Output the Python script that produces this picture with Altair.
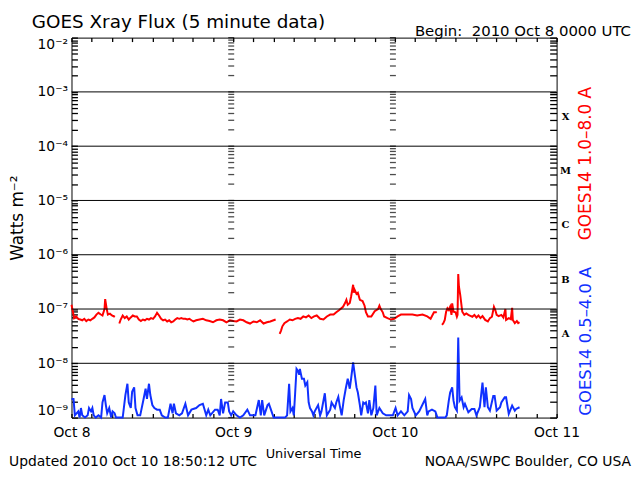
import json
import altair as alt
import pandas as pd

# ---------------- texts ----------------
title_text = "GOES Xray Flux (5 minute data)"
begin_text = "Begin:\u00a0\u00a02010 Oct 8 0000 UTC"
updated_text = "Updated 2010 Oct 10 18:50:12 UTC"
credit_text = "NOAA/SWPC Boulder, CO USA"
y_title = "Watts m⁻²"
x_title = "Universal Time"
red_label = "GOES14 1.0–8.0 A"
blue_label = "GOES14 0.5–4.0 A"
day_labels = ["Oct 8", "Oct 9", "Oct 10", "Oct 11"]

# flare classes (label placed mid-decade)
class_names = ["X", "M", "C", "B", "A"]
class_flux = [3.2e-4, 3.2e-5, 3.2e-6, 3.2e-7, 3.2e-8]
decade_lines = [1e-3, 1e-4, 1e-5, 1e-6, 1e-7, 1e-8]
ladder_hours = [24, 48]

# ---------------- data (hours since 2010 Oct 8 00 UT, flux W m^-2) ----------------
red_hours_1 = [0.0, 0.2, 0.4, 0.7, 1.0, 1.3, 1.6, 1.9, 2.2, 2.5,
               2.8, 3.1, 3.4, 3.7, 4.0, 4.3, 4.6, 4.9, 5.0, 5.2,
               5.4, 5.7, 6.0, 6.3, 6.4]
red_flux_1 = [1.2e-7, 9.0e-8, 6.8e-8, 7.3e-8, 6.6e-8, 6.4e-8, 6.2e-8, 6.6e-8, 6.0e-8, 6.4e-8,
              6.2e-8, 6.6e-8, 7.0e-8, 7.9e-8, 8.5e-8, 8.0e-8, 7.6e-8, 1.0e-7, 1.52e-7, 1.05e-7,
              7.9e-8, 8.2e-8, 7.6e-8, 7.3e-8, 7.6e-8]

red_hours_2 = [7.1, 7.3, 7.6, 7.9, 8.2, 8.5, 8.8, 9.1, 9.4, 9.7,
               10.0, 10.3, 10.6, 10.9, 11.2, 11.5, 11.8, 12.1, 12.4, 12.7,
               13.0, 13.3, 13.6, 13.9, 14.2, 14.5, 14.8, 15.1, 15.4, 15.7,
               16.0, 16.3, 16.6, 16.9, 17.2, 17.5, 17.8, 18.1, 18.5, 19.0,
               19.5, 20.0, 20.5, 21.0, 21.5, 22.0, 22.5, 23.0, 23.5, 24.0,
               24.5, 25.0, 25.5, 26.0, 26.5, 27.0, 27.5, 28.0, 28.5, 29.0,
               29.5, 30.0, 30.3]
red_flux_2 = [5.4e-8, 6.4e-8, 7.6e-8, 6.8e-8, 7.3e-8, 6.4e-8, 7.0e-8, 7.6e-8, 7.3e-8, 7.3e-8,
              6.4e-8, 6.0e-8, 6.4e-8, 6.2e-8, 6.6e-8, 6.4e-8, 6.8e-8, 6.6e-8, 7.3e-8, 8.5e-8,
              7.6e-8, 6.6e-8, 6.2e-8, 6.4e-8, 5.9e-8, 6.2e-8, 5.7e-8, 5.9e-8, 6.4e-8, 6.8e-8,
              6.6e-8, 6.8e-8, 6.6e-8, 6.6e-8, 6.4e-8, 6.6e-8, 6.2e-8, 5.9e-8, 6.2e-8, 6.4e-8,
              6.6e-8, 6.2e-8, 6.0e-8, 5.7e-8, 6.2e-8, 6.4e-8, 6.2e-8, 5.7e-8, 6.2e-8, 6.0e-8,
              5.9e-8, 6.4e-8, 6.2e-8, 5.7e-8, 5.4e-8, 5.9e-8, 5.7e-8, 6.2e-8, 5.4e-8, 5.7e-8,
              5.9e-8, 6.2e-8, 6.4e-8]

red_hours_3 = [30.9, 31.1, 31.3, 31.6, 32.0, 32.4, 32.8, 33.2, 33.6, 34.0,
               34.4, 34.8, 35.2, 35.6, 36.0, 36.4, 36.9, 37.4, 37.9, 38.4,
               38.9, 39.3, 39.7, 40.3, 40.6, 40.8, 41.0, 41.3, 41.5, 41.8,
               41.9, 42.0, 42.3, 42.5, 42.8, 43.2, 43.5, 43.7, 44.0, 44.5,
               45.0, 45.5, 45.7, 45.9, 46.2, 46.4, 46.9, 47.4, 47.9, 48.4,
               48.9, 49.6, 50.6, 51.3, 52.1, 52.8, 53.3, 53.8, 54.1, 54.2]
red_flux_3 = [3.5e-8, 4.0e-8, 4.8e-8, 5.5e-8, 5.9e-8, 6.4e-8, 6.2e-8, 6.6e-8, 6.8e-8, 6.6e-8,
              7.3e-8, 7.0e-8, 7.6e-8, 6.8e-8, 7.3e-8, 7.6e-8, 6.6e-8, 6.4e-8, 7.3e-8, 7.9e-8,
              7.9e-8, 8.7e-8, 9.5e-8, 1.1e-7, 1.29e-7, 1.48e-7, 1.2e-7, 1.29e-7, 1.7e-7, 2.8e-7,
              2.0e-7, 2.3e-7, 1.9e-7, 2.0e-7, 1.48e-7, 1.4e-7, 1.15e-7, 8.7e-8, 7.3e-8, 7.3e-8,
              9.1e-8, 1.0e-7, 1.15e-7, 1.0e-7, 8.7e-8, 7.3e-8, 6.8e-8, 6.4e-8, 6.6e-8, 7.3e-8,
              7.9e-8, 7.9e-8, 7.9e-8, 7.6e-8, 7.9e-8, 7.3e-8, 6.6e-8, 8.7e-8, 8.7e-8, 8.5e-8]

red_hours_4 = [55.0, 55.2, 55.4, 55.6, 55.8, 56.0, 56.2, 56.4, 56.5, 56.7,
               57.0, 57.2, 57.3, 57.4, 57.5, 57.7, 58.0, 58.3, 58.6, 58.9,
               59.2, 59.5, 59.8, 60.1, 60.4, 60.7, 61.0, 61.4, 61.8, 62.1,
               62.4, 62.7, 62.9, 63.1, 63.4, 63.8, 64.1, 64.4, 64.5, 64.9,
               65.2, 65.4, 65.5, 65.8, 66.1, 66.3, 66.5]
red_flux_4 = [5.1e-8, 5.5e-8, 6.3e-8, 8.9e-8, 1.03e-7, 9.6e-8, 1.1e-7, 7.8e-8, 1.27e-7, 8.9e-8,
              8.7e-8, 7.2e-8, 7.8e-8, 4.4e-7, 2.6e-7, 1.8e-7, 8.9e-8, 7.8e-8, 8.3e-8, 7.8e-8,
              7.5e-8, 7.2e-8, 7.8e-8, 7.0e-8, 7.6e-8, 6.8e-8, 7.4e-8, 6.3e-8, 5.9e-8, 6.8e-8,
              7.2e-8, 1.1e-7, 9.6e-8, 7.8e-8, 7.4e-8, 7.8e-8, 7.0e-8, 1.0e-7, 6.3e-8, 6.8e-8,
              6.5e-8, 1.05e-7, 6.3e-8, 5.5e-8, 6.0e-8, 5.5e-8, 5.7e-8]

blue_hours = [0.0, 0.3, 0.5, 1.0, 1.2, 1.4, 1.6, 2.0, 2.4, 2.6,
              2.9, 3.1, 3.3, 3.6, 4.0, 4.4, 4.6, 4.9, 5.1, 5.3,
              5.6, 5.9, 6.1, 6.4, 6.6, 7.1, 7.6, 8.0, 8.3, 8.5,
              8.8, 9.0, 9.3, 9.5, 9.8, 10.2, 10.7, 11.0, 11.2, 11.5,
              11.7, 12.0, 12.3, 12.7, 13.1, 13.4, 13.9, 14.3, 14.7, 15.0,
              15.2, 15.5, 16.0, 16.4, 16.9, 17.3, 17.8, 18.5, 19.0, 19.5,
              20.0, 20.3, 20.6, 21.3, 21.7, 22.0, 22.2, 22.5, 22.8, 23.2,
              23.4, 23.7, 24.0, 24.5, 25.0, 25.5, 26.1, 26.5, 27.3, 27.8,
              28.1, 28.3, 28.6, 29.1, 29.3, 29.6, 30.0, 31.7, 32.0, 32.3,
              32.5, 32.8, 33.0, 33.2, 33.4, 33.6, 33.8, 33.9, 34.0, 34.2,
              34.5, 34.7, 35.0, 35.2, 35.4, 35.7, 35.9, 36.1, 36.6, 36.9,
              37.1, 37.6, 37.9, 38.4, 38.6, 39.1, 39.3, 39.6, 39.8, 40.1,
              40.4, 40.7, 41.0, 41.3, 41.5, 41.8, 42.0, 42.3, 42.5, 42.8,
              43.0, 43.3, 43.5, 43.7, 44.0, 44.2, 44.5, 44.8, 45.1, 45.3,
              45.7, 46.2, 46.7, 47.2, 47.7, 48.1, 48.4, 48.9, 49.4, 49.9,
              50.1, 50.4, 50.6, 51.1, 51.6, 52.5, 52.8, 53.0, 53.5, 54.0,
              54.2, 54.3, 55.5, 55.7, 56.0, 56.2, 56.5, 56.7, 56.9, 57.2,
              57.4, 57.6, 57.9, 58.2, 58.4, 58.9, 59.4, 59.8, 60.1, 60.6,
              61.0, 61.3, 61.5, 61.8, 62.1, 62.6, 62.8, 63.1, 63.6, 63.8,
              64.3, 64.5, 64.9, 65.2, 65.4, 65.8, 66.0, 66.5]
blue_flux = [2.2e-9, 2.2e-9, 1.1e-9, 1.3e-9, 1.0e-9, 1.5e-9, 1.1e-9, 1.0e-9, 1.1e-9, 1.5e-9,
             1.3e-9, 1.5e-9, 1.1e-9, 1.0e-9, 1.1e-9, 1.0e-9, 1.9e-9, 2.6e-9, 1.7e-9, 1.2e-9,
             1.5e-9, 1.0e-9, 1.3e-9, 1.2e-9, 0.9e-9, 0.9e-9, 1.0e-9, 2.6e-9, 4.2e-9, 1.9e-9,
             1.5e-9, 3.0e-9, 3.6e-9, 1.5e-9, 1.1e-9, 1.1e-9, 2.2e-9, 3.4e-9, 2.2e-9, 4.2e-9,
             2.6e-9, 1.7e-9, 1.5e-9, 1.4e-9, 1.4e-9, 1.1e-9, 1.0e-9, 1.0e-9, 1.8e-9, 1.2e-9,
             1.8e-9, 1.2e-9, 1.1e-9, 1.2e-9, 1.8e-9, 1.1e-9, 1.4e-9, 1.5e-9, 1.7e-9, 1.8e-9,
             1.1e-9, 1.4e-9, 1.1e-9, 1.4e-9, 1.4e-9, 1.1e-9, 2.2e-9, 1.2e-9, 1.9e-9, 1.9e-9,
             1.3e-9, 1.1e-9, 1.3e-9, 1.1e-9, 1.0e-9, 1.1e-9, 1.4e-9, 1.1e-9, 1.1e-9, 2.1e-9,
             1.1e-9, 2.1e-9, 1.1e-9, 1.7e-9, 1.8e-9, 1.4e-9, 0.9e-9, 0.9e-9, 1.1e-9, 4.2e-9,
             1.3e-9, 1.5e-9, 1.1e-9, 2.9e-9, 7.9e-9, 7.3e-9, 6.2e-9, 7.9e-9, 6.8e-9, 5.2e-9,
             5.2e-9, 3.9e-9, 4.5e-9, 1.9e-9, 1.5e-9, 1.3e-9, 1.1e-9, 1.3e-9, 1.7e-9, 1.1e-9,
             1.3e-9, 2.8e-9, 1.1e-9, 1.4e-9, 1.9e-9, 1.5e-9, 1.9e-9, 2.4e-9, 1.7e-9, 1.1e-9,
             2.1e-9, 3.4e-9, 5.2e-9, 3.4e-9, 5.2e-9, 1.04e-8, 6.8e-9, 3.6e-9, 2.9e-9, 1.7e-9,
             1.1e-9, 1.9e-9, 1.8e-9, 1.9e-9, 1.2e-9, 2.1e-9, 1.1e-9, 1.5e-9, 3.9e-9, 1.1e-9,
             1.5e-9, 1.2e-9, 1.1e-9, 1.1e-9, 1.1e-9, 1.5e-9, 1.1e-9, 1.3e-9, 1.1e-9, 1.3e-9,
             2.6e-9, 2.2e-9, 1.5e-9, 1.1e-9, 1.3e-9, 2.2e-9, 1.1e-9, 1.3e-9, 1.4e-9, 1.3e-9,
             1.1e-9, 0.9e-9, 0.9e-9, 1.1e-9, 2.05e-9, 2.9e-9, 3.6e-9, 2.05e-9, 1.55e-9, 1.34e-9,
             3.0e-8, 2.05e-9, 2.36e-9, 1.55e-9, 1.78e-9, 1.25e-9, 1.44e-9, 1.44e-9, 1.1e-9, 1.55e-9,
             4.4e-9, 1.55e-9, 3.6e-9, 1.55e-9, 1.34e-9, 2.5e-9, 2.5e-9, 1.34e-9, 1.55e-9, 1.9e-9,
             2.36e-9, 2.36e-9, 1.17e-9, 1.44e-9, 1.66e-9, 1.34e-9, 1.44e-9, 1.55e-9]

# ---------------- tables ----------------
red_parts = [(red_hours_1, red_flux_1), (red_hours_2, red_flux_2),
             (red_hours_3, red_flux_3), (red_hours_4, red_flux_4)]
rows = []
for i, (hs, fs) in enumerate(red_parts):
    assert len(hs) == len(fs)
    rows += [{"h": h, "f": f, "seg": i} for h, f in zip(hs, fs)]
red_df = pd.DataFrame(rows)
assert len(blue_hours) == len(blue_flux)
blue_df = pd.DataFrame({"h": blue_hours, "f": blue_flux})

minor_vals = [m * 10.0 ** k for k in range(-9, -2) for m in range(1, 10)] + [1e-2]
hour_ticks = list(range(0, 73, 3))
ladder_df = pd.DataFrame([{"h": h, "f": v} for h in ladder_hours for v in minor_vals])
grid_df = pd.DataFrame({"f": decade_lines})
class_df = pd.DataFrame({"c": class_names, "f": class_flux})

W, H = 489, 383
FONT = "DejaVu Sans"
RED = "#ff0000"
BLUE = "#1030ff"

xs = alt.Scale(domain=[0, 72], nice=False, zero=False)
ys = alt.Scale(type="log", domain=[1e-9, 1e-2], clamp=True, nice=False)

sup = "['⁰','¹','²','³','⁴','⁵','⁶','⁷','⁸','⁹']"
y_label_expr = (
    "abs(datum.value / pow(10, round(log(datum.value) / LN10)) - 1) < 0.01 ? "
    f"'10⁻' + {sup}[-round(log(datum.value) / LN10)] : ''"
)
x_label_expr = (
    f"datum.value % 24 == 0 ? {json.dumps(day_labels, ensure_ascii=False)}[round(datum.value / 24)] : ''"
)

common_axis = dict(domain=False, grid=False, title=None, tickColor="black",
                   tickWidth=1.3, labelColor="black", labelFont=FONT,
                   labelOverlap=False, labelBound=False)

red = alt.Chart(red_df).mark_line(color=RED, strokeWidth=2).encode(
    x=alt.X("h:Q", scale=xs, axis=alt.Axis(orient="bottom", values=hour_ticks,
                                           labelExpr=x_label_expr, tickSize=4, offset=-4,
                                           labelPadding=8, labelFontSize=14, labelFlush=False,
                                           **common_axis)),
    y=alt.Y("f:Q", scale=ys, axis=alt.Axis(orient="left", values=minor_vals,
                                           labelExpr=y_label_expr, tickSize=6, offset=-6,
                                           labelPadding=4, labelFontSize=14, labelFlush=True,
                                           **common_axis)),
    detail="seg:N",
)

blue = alt.Chart(blue_df).mark_line(color=BLUE, strokeWidth=2).encode(
    x=alt.X("h:Q", scale=xs, axis=alt.Axis(orient="top", values=hour_ticks, labels=False,
                                           tickSize=4, offset=-4, **common_axis)),
    y=alt.Y("f:Q", scale=ys, axis=alt.Axis(orient="right", values=minor_vals, labels=False,
                                           tickSize=7, offset=-7, **common_axis)),
)

grid = alt.Chart(grid_df).mark_rule(color="black", strokeWidth=1).encode(
    y=alt.Y("f:Q", scale=ys, axis=None)
)

ladders = alt.Chart(ladder_df).mark_tick(orient="horizontal", size=6, thickness=1.3,
                                         color="black", xOffset=-2).encode(
    x=alt.X("h:Q", scale=xs, axis=None),
    y=alt.Y("f:Q", scale=ys, axis=None),
)

classes = alt.Chart(class_df).mark_text(font="DejaVu Serif", fontWeight="bold", fontSize=10,
                                         align="center", baseline="middle", dy=-2,
                                         color="black").encode(
    x=alt.value(W + 9),
    y=alt.Y("f:Q", scale=ys, axis=None),
    text="c:N",
)

one = pd.DataFrame({"k": [0]})


def label(text, x, y, size, align="left", baseline="alphabetic", angle=0, color="black"):
    kw = dict(font=FONT, fontSize=size, align=align, baseline=baseline, color=color)
    if angle:
        kw["angle"] = angle
    return alt.Chart(one).mark_text(**kw).encode(
        x=alt.value(x), y=alt.value(y), text=alt.value(text)
    )


texts = [
    label(title_text, -40, -10, 18.5),
    label(begin_text, 564, -2, 15, align="right"),
    label(y_title, -54, 182, 17, align="center", baseline="middle", angle=270),
    label(x_title, 244, 424, 13, align="center"),
    label(updated_text, -63, 432, 14),
    label(credit_text, 564, 432, 14, align="right"),
    label(red_label, 519, 127, 17, align="center", baseline="middle", angle=270, color=RED),
    label(blue_label, 519, 306, 16.5, align="center", baseline="middle", angle=270, color=BLUE),
]

chart = alt.layer(red, blue, grid, ladders, classes, *texts).resolve_axis(
    x="independent", y="independent"
).properties(
    width=W, height=H,
    padding={"left": 64, "top": 28, "right": 76, "bottom": 53},
    autosize=alt.AutoSizeParams(type="none"),
    background="white",
).configure_view(stroke="black", strokeWidth=1)

chart.save("out.html", embed_options={"renderer": "svg", "actions": False})
